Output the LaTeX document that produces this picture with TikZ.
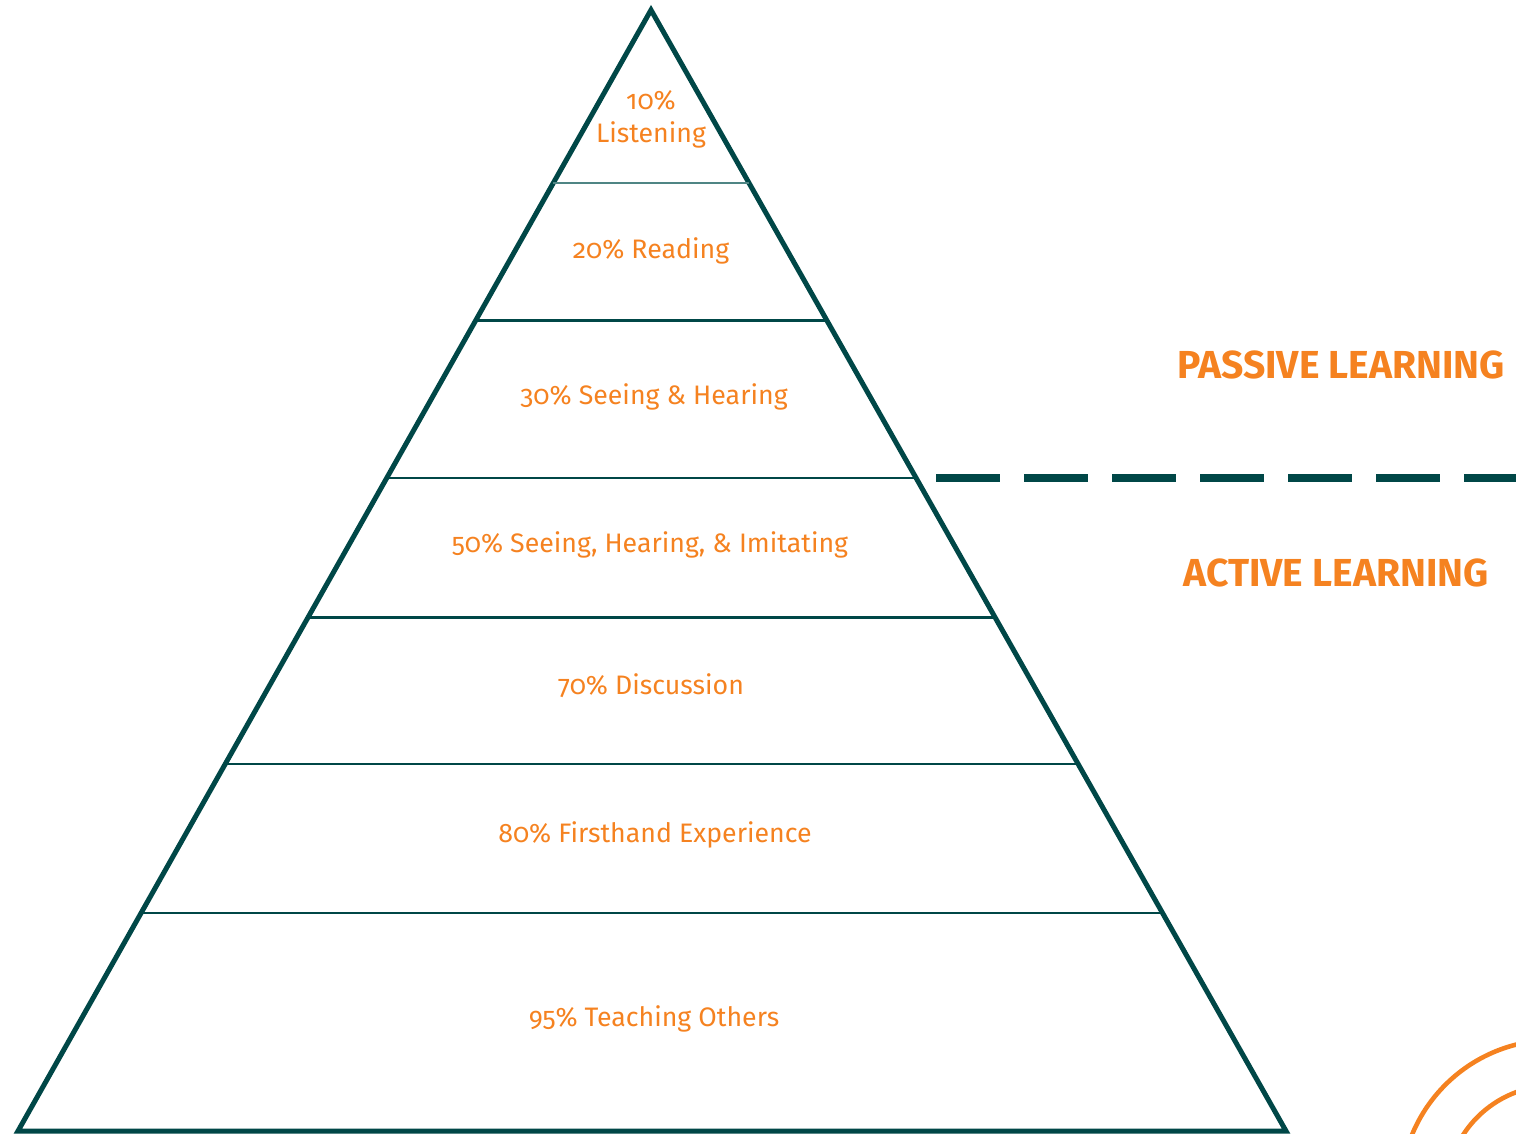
\documentclass[tikz,border=0pt]{standalone}
\usepackage{fontspec}
\setmainfont{Fira Sans}[Numbers=OldStyle]
\usetikzlibrary{calc}
\definecolor{pyrteal}{HTML}{004747}
\definecolor{thinteal}{HTML}{4F8584}
\definecolor{pyrorange}{HTML}{F58220}

\begin{document}
\begin{tikzpicture}[x=0.01cm,y=-0.01cm,
    level/.style={text=pyrorange,font=\fontsize{7.6}{9.4}\selectfont,align=center},
    side/.style={text=pyrorange,font=\fontsize{11.1}{13}\selectfont\bfseries},
    divider/.style={pyrteal,line width=0.85pt}]
    \useasboundingbox (0,0) rectangle (1516,1134);
    \coordinate (apex) at (651,10);
    \coordinate (bl) at (18,1131);
    \coordinate (br) at (1286,1131);
    \draw[pyrteal,line width=1.42pt] (apex) -- (br) -- (bl) -- cycle;
    \draw[thinteal,line width=0.55pt] ($(apex)!{173/1121}!(bl)$) -- ($(apex)!{173/1121}!(br)$);
    \foreach \y in {321,478,618,764,913}
        \draw[divider] ($(apex)!{(\y-10)/1121}!(bl)$) -- ($(apex)!{(\y-10)/1121}!(br)$);
    % level labels
    \node[level] (listening) at (651,119) {10\%\\Listening};
    \node[level] (reading) at (651,251) {20\% Reading};
    \node[level] (seehear) at (654,397) {30\% Seeing \& Hearing};
    \node[level] (imitate) at (650,545) {50\% Seeing, Hearing, \& Imitating};
    \node[level] (discuss) at (651,686) {70\% Discussion};
    \node[level] (firsthand) at (655,835) {80\% Firsthand Experience};
    \node[level] (teaching) at (654,1019) {95\% Teaching Others};
    % passive / active split
    \coordinate (dashstart) at (936,478);
    \coordinate (dashend) at (1516,478);
    \draw[pyrteal,line width=2.3pt,dash pattern=on 18.2pt off 6.83pt] (dashstart) -- (dashend);
    \node[side] (passive) at (1341,365) {PASSIVE LEARNING};
    \node[side] (active) at (1336,573) {ACTIVE LEARNING};
    % corner arcs
    \begin{scope}
        \clip (0,0) rectangle (1516,1134);
        \draw[pyrorange,line width=1.3pt] (1553.5,1193) circle[radius=153];
        \draw[pyrorange,line width=1.3pt] (1553.5,1193) circle[radius=107.5];
    \end{scope}
\end{tikzpicture}
\end{document}
